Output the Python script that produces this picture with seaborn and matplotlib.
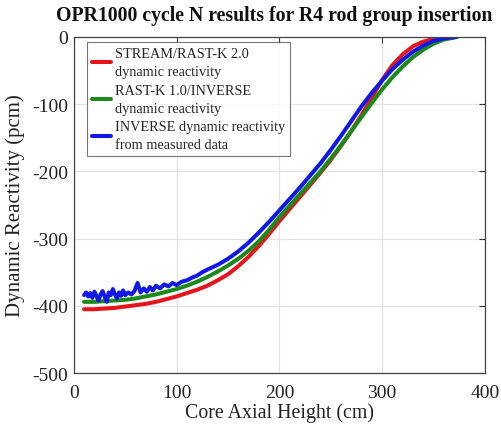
import numpy as np
import pandas as pd
import matplotlib
matplotlib.use("Agg")
import matplotlib.pyplot as plt
import seaborn as sns

# ---- data ----
red_x = [10, 20, 30, 40, 50, 60, 70, 80, 90, 100, 110, 120, 130, 140, 150, 160, 170, 180, 190,
         200, 210, 220, 230, 240, 250, 260, 270, 280, 290, 300, 310, 320, 330, 340, 350, 360, 365]
red_y = [-405, -405, -404, -403, -401, -399, -397, -394, -390, -386, -381, -376, -370, -362, -353,
         -341, -327, -311, -293, -274, -256, -238, -220, -202, -183, -162, -140, -116, -90, -64,
         -42, -26, -14, -7, -3, -1, 0]

green_x = [10, 20, 30, 40, 50, 60, 70, 80, 90, 100, 110, 120, 130, 140, 150, 160, 170, 180, 190,
           200, 210, 220, 230, 240, 250, 260, 270, 280, 290, 300, 310, 320, 330, 340, 350, 360, 373]
green_y = [-394, -394, -393, -392, -391, -389, -386, -383, -379, -375, -370, -364, -357, -349, -340,
           -330, -318, -304, -287, -268, -251, -234, -217, -200, -181, -161, -140, -119, -98, -78,
           -60, -44, -30, -19, -10, -4, 0]

blue_x = [10, 12, 14, 16, 18, 20, 22, 24, 26, 28, 30, 32, 34, 36, 38, 40, 42, 44, 46, 48,
          50, 53, 56, 59, 62, 65, 68, 71, 74, 77, 80, 84, 88, 92, 96, 100, 105, 110, 115,
          120, 125, 130, 140, 150, 160, 170, 180, 190, 200, 210, 220, 230, 240, 250, 260,
          270, 280, 290, 300, 310, 320, 330, 340, 350, 360, 372]
blue_y = [-384, -380, -386, -381, -388, -379, -385, -392, -383, -378, -386, -394, -380, -384,
          -375, -383, -389, -380, -385, -377, -384, -380, -383, -378, -366, -380, -374, -379,
          -372, -377, -370, -374, -368, -371, -366, -369, -364, -362, -358, -355, -350, -346,
          -339, -330, -319, -306, -291, -275, -258, -241, -224, -206, -188, -168, -147, -125,
          -103, -83, -65, -48, -34, -22, -13, -6, -2, 0]

labels = ["STREAM/RAST-K 2.0\ndynamic reactivity",
          "RAST-K 1.0/INVERSE\ndynamic reactivity",
          "INVERSE dynamic reactivity\nfrom measured data"]
colors = ["#e8141c", "#1a8a1a", "#0f18e6"]

x_ticks = [0, 100, 200, 300, 400]
y_ticks = [-500, -400, -300, -200, -100, 0]

# ---- plotting ----
sns.set_theme(style="white")
plt.rcParams["font.family"] = ["Liberation Serif", "DejaVu Serif"]

fig = plt.figure(figsize=(5.02, 4.31), dpi=100)
ax = fig.add_axes([0.147, 0.132, 0.819, 0.780])

for xs, ys, lab, col in zip([red_x, green_x, blue_x], [red_y, green_y, blue_y], labels, colors):
    df = pd.DataFrame({"x": xs, "y": ys})
    sns.lineplot(data=df, x="x", y="y", ax=ax, color=col, lw=2.9, label=lab,
                 sort=False, estimator=None)

ax.set_xlim(0, 400)
ax.set_ylim(-500, 0)
ax.set_xticks(x_ticks)
ax.set_yticks(y_ticks)
ax.set_xticklabels([str(t) for t in x_ticks])
ax.set_yticklabels([str(t) for t in y_ticks])
ax.grid(True, color="#e3e3e3", lw=0.9)
ax.set_axisbelow(True)
ax.tick_params(direction="in", length=4, width=0.8, colors="#333333",
               labelsize=14, top=True, right=True, labelcolor="#222222")
ax.tick_params(axis="x", pad=8)
ax.tick_params(axis="y", pad=4)
for s in ax.spines.values():
    s.set_color("#444444")
    s.set_linewidth(0.9)

ax.set_xlabel("Core Axial Height (cm)", fontsize=14.3, color="#222222", labelpad=1)
ax.set_ylabel("Dynamic Reactivity (pcm)", fontsize=15, color="#222222", labelpad=5)
ax.set_title("OPR1000 cycle N results for R4 rod group insertion",
             fontsize=14.2, fontweight="bold", color="#111111", pad=12, x=0.487)

leg = ax.legend(loc="upper left", bbox_to_anchor=(0.032, 0.985), fontsize=10.3,
                handlelength=1.3, handletextpad=0.3, borderpad=0.35, labelspacing=0.4,
                frameon=True, fancybox=False, borderaxespad=0.0)
leg.get_frame().set_edgecolor("#555555")
leg.get_frame().set_linewidth(0.8)
for t in leg.get_texts():
    t.set_linespacing(1.5)
for line in leg.get_lines():
    line.set_linewidth(2.9)

fig.savefig("out.png", dpi=100)
